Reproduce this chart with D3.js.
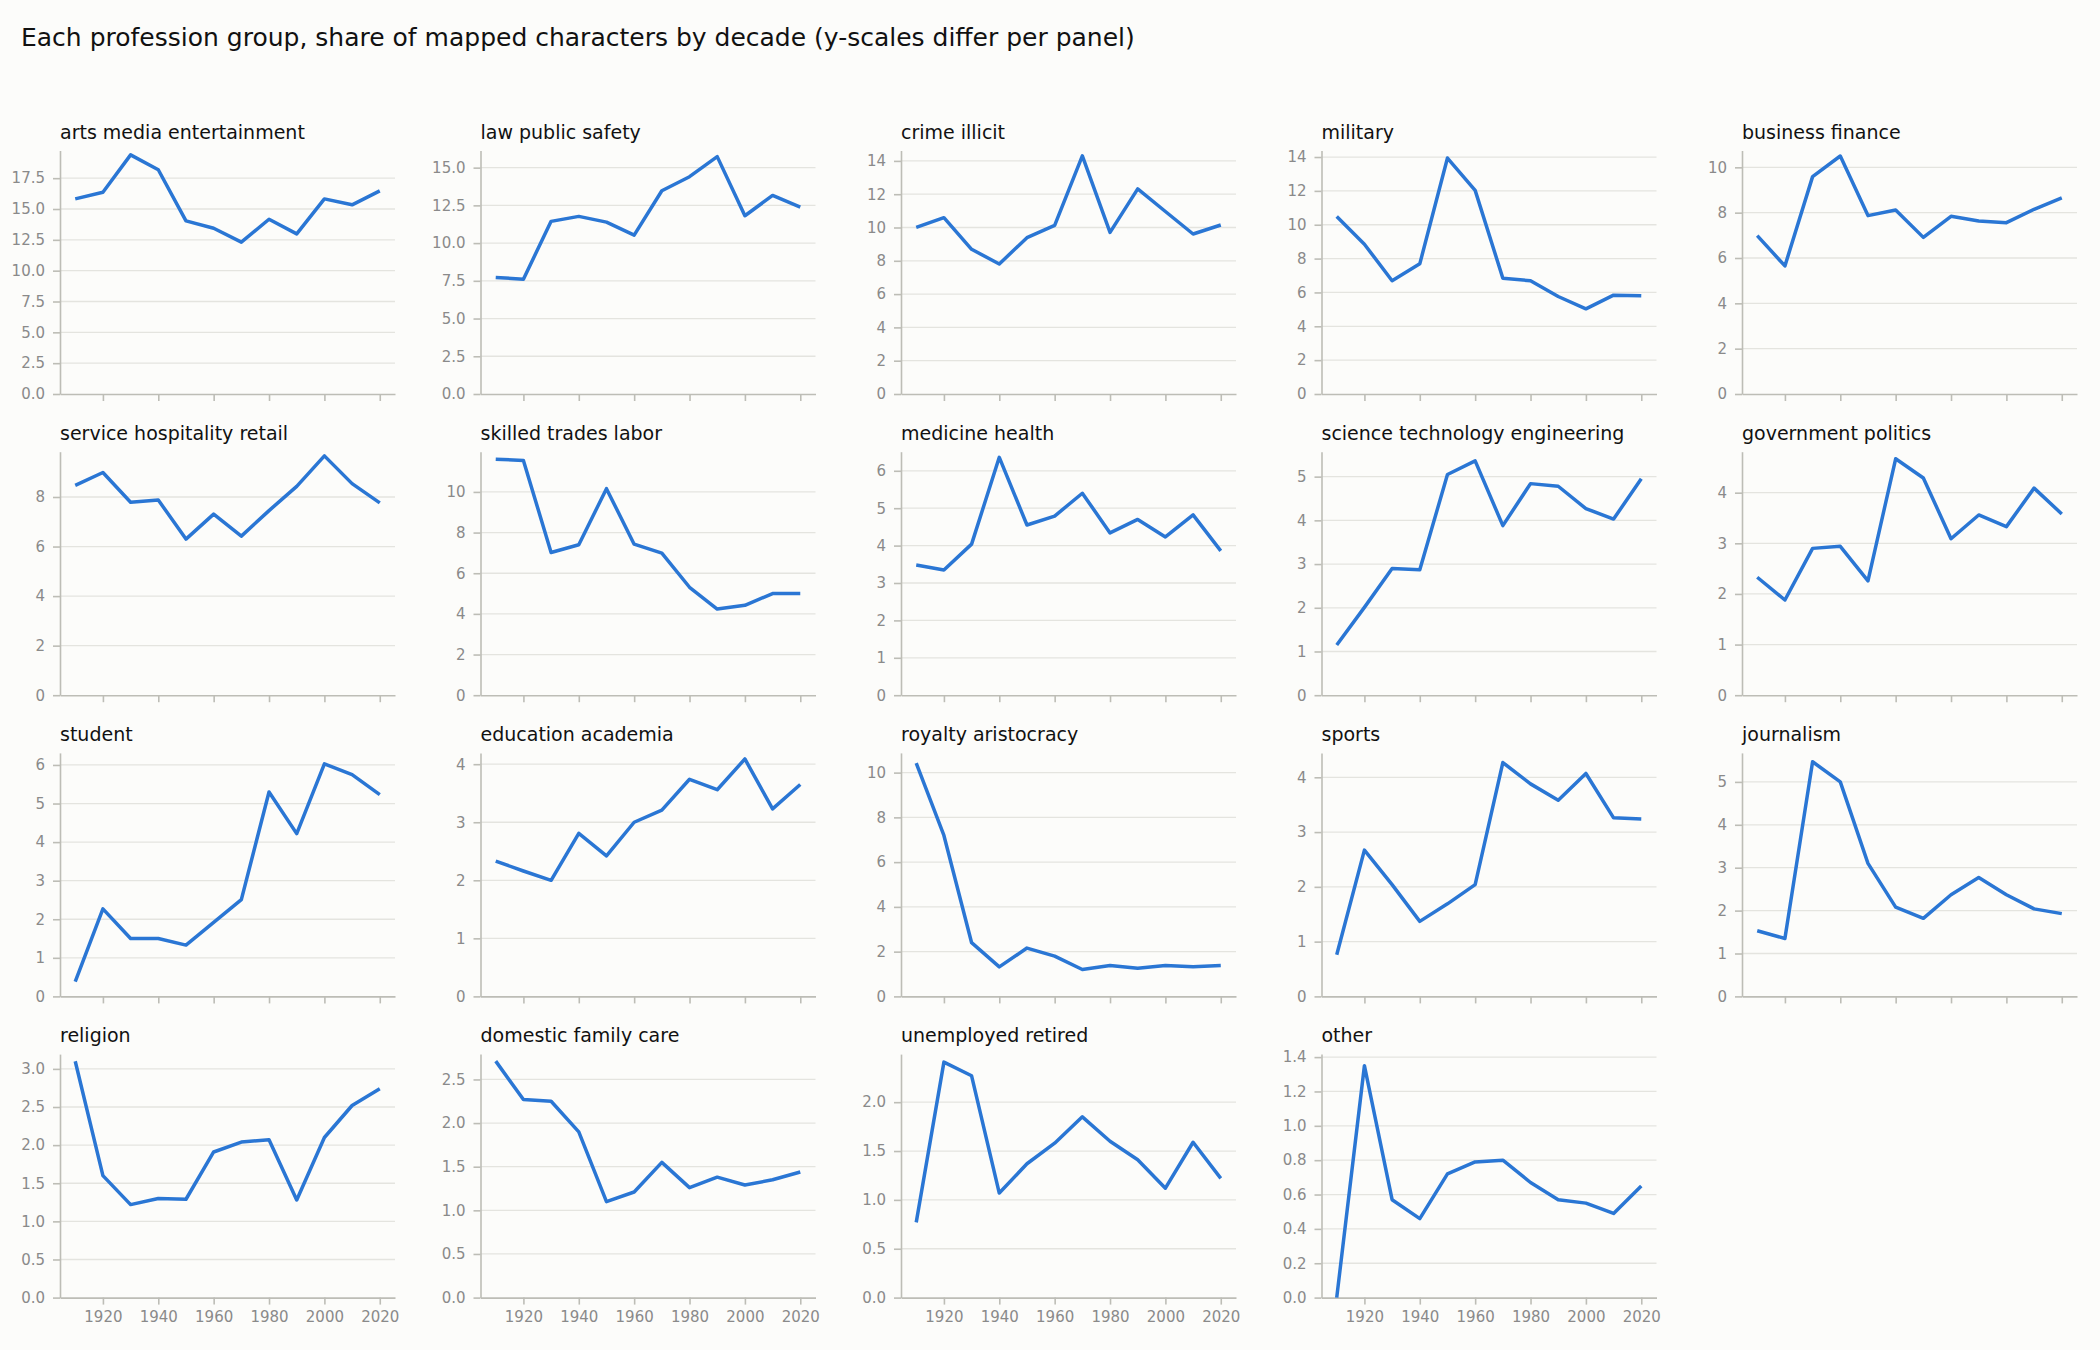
<!DOCTYPE html>
<html>
<head>
<meta charset="utf-8">
<script src="https://cdn.jsdelivr.net/npm/d3@7"></script>
<style>
  body { margin: 0; background: #fcfcfa; }
  text { font-family: "DejaVu Sans", sans-serif; }
</style>
</head>
<body>
<div id="chart"></div>
<script>
var W = 2100, H = 1350;

var decades = [1910, 1920, 1930, 1940, 1950, 1960, 1970, 1980, 1990, 2000, 2010, 2020];
var xTicks = [1920, 1940, 1960, 1980, 2000, 2020];

var groups = ["arts media entertainment", "law public safety", "crime illicit", "military", "business finance",
    "service hospitality retail", "skilled trades labor", "medicine health", "science technology engineering", "government politics",
    "student", "education academia", "royalty aristocracy", "sports", "journalism",
    "religion", "domestic family care", "unemployed retired", "other"];

var artsMedia   = [15.82, 16.36, 19.39, 18.18, 14.04, 13.44, 12.31, 14.17, 12.98, 15.82, 15.34, 16.47];
var lawSafety   = [7.72, 7.61, 11.44, 11.77, 11.39, 10.53, 13.47, 14.40, 15.73, 11.81, 13.16, 12.39];
var crime       = [10.01, 10.59, 8.69, 7.81, 9.39, 10.13, 14.30, 9.71, 12.32, 10.96, 9.61, 10.15];
var military    = [10.49, 8.85, 6.69, 7.69, 13.94, 12.03, 6.84, 6.69, 5.76, 5.03, 5.84, 5.80];
var business    = [6.99, 5.65, 9.59, 10.50, 7.87, 8.12, 6.91, 7.84, 7.63, 7.56, 8.15, 8.65];
var service     = [8.47, 8.99, 7.79, 7.88, 6.30, 7.31, 6.42, 7.45, 8.43, 9.66, 8.54, 7.76];
var trades      = [11.61, 11.55, 7.02, 7.40, 10.16, 7.43, 6.99, 5.31, 4.24, 4.42, 5.00, 5.00];
var medicine    = [3.48, 3.35, 4.04, 6.36, 4.55, 4.79, 5.40, 4.34, 4.70, 4.23, 4.82, 3.86];
var science     = [1.15, 2.01, 2.90, 2.87, 5.05, 5.36, 3.88, 4.84, 4.78, 4.27, 4.03, 4.95];
var government  = [2.33, 1.88, 2.90, 2.94, 2.26, 4.67, 4.29, 3.09, 3.56, 3.33, 4.09, 3.58];
var student     = [0.38, 2.27, 1.50, 1.50, 1.33, 1.92, 2.51, 5.30, 4.22, 6.03, 5.75, 5.23];
var education   = [2.33, 2.16, 2.00, 2.81, 2.42, 3.00, 3.21, 3.74, 3.56, 4.09, 3.23, 3.65];
var royalty     = [10.42, 7.19, 2.40, 1.32, 2.16, 1.80, 1.20, 1.38, 1.26, 1.38, 1.32, 1.38];
var sports      = [0.76, 2.67, 2.04, 1.37, 1.69, 2.04, 4.27, 3.88, 3.58, 4.07, 3.26, 3.24];
var journalism  = [1.53, 1.35, 5.47, 5.00, 3.10, 2.08, 1.82, 2.37, 2.77, 2.37, 2.04, 1.93];
var religion    = [3.10, 1.60, 1.22, 1.30, 1.29, 1.91, 2.04, 2.07, 1.28, 2.10, 2.52, 2.74];
var domestic    = [2.71, 2.27, 2.25, 1.90, 1.10, 1.21, 1.55, 1.26, 1.38, 1.29, 1.35, 1.44];
var unemployed  = [0.77, 2.41, 2.27, 1.07, 1.37, 1.58, 1.85, 1.60, 1.41, 1.12, 1.59, 1.22];
var other       = [0.00, 1.35, 0.57, 0.46, 0.72, 0.79, 0.80, 0.67, 0.57, 0.55, 0.49, 0.65];

var series = [artsMedia, lawSafety, crime, military, business,
    service, trades, medicine, science, government,
    student, education, royalty, sports, journalism,
    religion, domestic, unemployed, other];

// y tick spacing per panel (as drawn in the source)
var yTickSteps = [2.5, 2.5, 2, 2, 2, 2, 2, 1, 1, 1, 1, 1, 2, 1, 1, 0.5, 0.5, 0.5, 0.2];

var ncol = 5, nrow = 4;
var left0 = 60, colStep = 420.5, pw = 335;
var bottom0 = 394, rowStep = 301.2, ph = 243.5;

var svg = d3.select("#chart").append("svg")
    .attr("width", W)
    .attr("height", H)
    .style("background", "#fcfcfa");

svg.append("text")
    .attr("x", 21)
    .attr("y", 46)
    .style("font-size", "25px")
    .style("fill", "#111")
    .text("Each profession group, share of mapped characters by decade (y-scales differ per panel)");

var x = d3.scaleLinear().domain([1904.5, 2025.5]).range([0, pw]);

groups.forEach(function (name, i) {
    var col = i % ncol, row = Math.floor(i / ncol);
    var vals = series[i];
    var g = svg.append("g")
        .attr("transform", "translate(" + (left0 + col * colStep) + "," + (bottom0 + row * rowStep - ph) + ")");

    var mx = d3.max(vals), mn = d3.min(vals);
    var top = mx + 0.05 * (mx - mn);
    var y = d3.scaleLinear().domain([0, top]).range([ph, 0]);

    var step = yTickSteps[i];
    var ticks = d3.range(0, top + 1e-9, step);
    var fmt = (step % 1 !== 0) ? d3.format(".1f") : d3.format("d");

    // grid
    g.selectAll(".grid")
        .data(ticks.filter(function (t) { return t > 0; }))
        .enter().append("line")
        .attr("x1", 0).attr("x2", pw)
        .attr("y1", function (d) { return y(d); })
        .attr("y2", function (d) { return y(d); })
        .style("stroke", "#e4e4df")
        .style("stroke-width", 1.3);

    var yAxis = g.append("g")
        .call(d3.axisLeft(y).tickValues(ticks).tickFormat(fmt).tickSize(7).tickPadding(8).tickSizeOuter(0));

    var xAxis = g.append("g")
        .attr("transform", "translate(0," + ph + ")")
        .call(d3.axisBottom(x).tickValues(xTicks).tickFormat(row === nrow - 1 ? d3.format("d") : "")
            .tickSize(7).tickPadding(7).tickSizeOuter(0));

    [yAxis, xAxis].forEach(function (a) {
        a.select(".domain").style("stroke", "#bdbdb6").style("stroke-width", 1.6);
        a.selectAll(".tick line").style("stroke", "#bdbdb6").style("stroke-width", 1.6);
        a.selectAll(".tick text")
            .style("fill", "#8a8a8a")
            .style("font-size", "15px")
            .style("font-family", "DejaVu Sans");
    });

    var line = d3.line()
        .x(function (d, j) { return x(decades[j]); })
        .y(function (d) { return y(d); });

    g.append("path")
        .datum(vals)
        .attr("d", line)
        .style("fill", "none")
        .style("stroke", "#2a76d4")
        .style("stroke-width", 3.5)
        .style("stroke-linejoin", "round");

    g.append("text")
        .attr("x", 0)
        .attr("y", -12)
        .style("font-size", "19px")
        .style("fill", "#111")
        .text(name);
});
</script>
</body>
</html>
